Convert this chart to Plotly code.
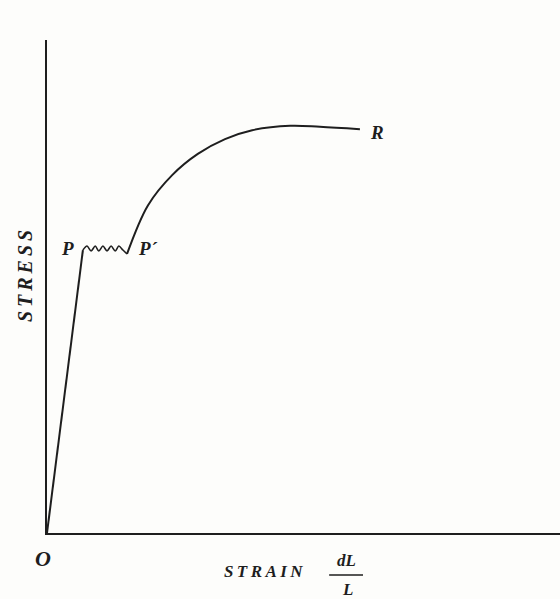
import plotly.graph_objects as go

# Elastic segment O -> P
elastic_x = [0.0, 0.70]
elastic_y = [0.0, 5.74]

# Yield (wavy) segment P -> P'
yield_x = [0.70, 0.78, 0.86, 0.94, 1.01, 1.09, 1.17, 1.25, 1.33, 1.40, 1.48, 1.56]
yield_y = [5.74, 5.82, 5.72, 5.82, 5.72, 5.82, 5.72, 5.82, 5.72, 5.82, 5.74, 5.66]

# Strain hardening curve P' -> R
harden_x = [1.56, 1.97, 2.44, 2.94, 3.47, 4.00, 4.74, 5.32, 6.10]
harden_y = [5.66, 6.65, 7.26, 7.69, 7.99, 8.17, 8.26, 8.24, 8.19]

ink = "#1e1e1e"
fig = go.Figure()
fig.add_trace(go.Scatter(x=elastic_x, y=elastic_y, mode="lines",
                         line=dict(color=ink, width=2), showlegend=False, hoverinfo="skip"))
fig.add_trace(go.Scatter(x=yield_x, y=yield_y, mode="lines",
                         line=dict(color=ink, width=1.6, shape="spline", smoothing=0.8),
                         showlegend=False, hoverinfo="skip"))
fig.add_trace(go.Scatter(x=harden_x, y=harden_y, mode="lines",
                         line=dict(color=ink, width=2, shape="spline", smoothing=1.0),
                         showlegend=False, hoverinfo="skip"))

serif = "Liberation Serif"
thin = "\u2009"

def label(text, x, y, size, angle=0):
    fig.add_annotation(text=text, x=x, y=y, xref="paper", yref="paper",
                       showarrow=False, textangle=angle,
                       font=dict(family=serif, size=size, color=ink),
                       xanchor="center", yanchor="middle")

label("<b><i>P</i></b>", 0.039, 0.578, 19)
label("<b><i>P´</i></b>", 0.197, 0.578, 19)
label("<b><i>R</i></b>", 0.643, 0.813, 19)
label("<b><i>O</i></b>", -0.008, -0.052, 22)
label("<b><i>" + thin.join("STRESS") + "</i></b>", -0.043, 0.521, 20, angle=-90)
label("<b><i>" + thin.join("STRAIN") + "</i></b>", 0.423, -0.079, 17)
label("<b><i>dL</i></b>", 0.583, -0.056, 17)
label("<b><i>L</i></b>", 0.585, -0.114, 17)
fig.add_shape(type="line", xref="paper", yref="paper",
              x0=0.550, x1=0.616, y0=-0.085, y1=-0.085,
              line=dict(color=ink, width=1.5))

fig.update_xaxes(range=[0, 10], showline=True, linecolor=ink, linewidth=2,
                 showgrid=False, zeroline=False, showticklabels=False, ticks="")
fig.update_yaxes(range=[0, 10], showline=True, linecolor=ink, linewidth=2,
                 showgrid=False, zeroline=False, showticklabels=False, ticks="")
fig.update_layout(width=560, height=599, margin=dict(l=47, r=0, t=40, b=66),
                  paper_bgcolor="#fdfdfb", plot_bgcolor="#fdfdfb")
fig.write_html("out.html", config={"displayModeBar": False},
               post_script="document.body.style.margin='0';document.body.style.background='#fdfdfb';")
